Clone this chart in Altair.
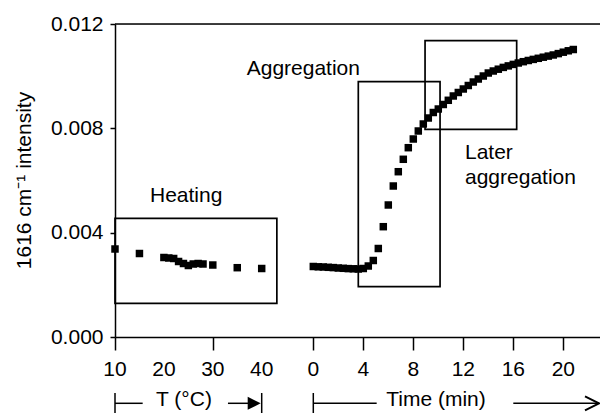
import altair as alt
import pandas as pd

# ---------------- data ----------------
# Heating phase: temperature (°C) -> 1616 cm-1 intensity
heat_T = [10, 15, 20, 21, 22, 23, 24, 25, 26, 27, 28, 30, 35, 40]
heat_I = [0.003374, 0.003201, 0.003048, 0.003029, 0.003010, 0.002895, 0.002818,
          0.002741, 0.002799, 0.002818, 0.002799, 0.002760, 0.002657, 0.002626]

# Isothermal phase: time (min) -> intensity
time_min = [0.0, 0.4, 0.8, 1.2, 1.6, 2.0, 2.4, 2.8, 3.2, 3.6, 4.0, 4.4, 4.8, 5.2,
            5.6, 6.0, 6.4, 6.8, 7.2, 7.6, 8.0, 8.4, 8.8, 9.2, 9.6, 10.0, 10.4,
            10.8, 11.2, 11.6, 12.0, 12.4, 12.8, 13.2, 13.6, 14.0, 14.4, 14.8,
            15.2, 15.6, 16.0, 16.4, 16.8, 17.2, 17.6, 18.0, 18.4, 18.8, 19.2,
            19.6, 20.0, 20.4, 20.8]
time_I = [0.002703, 0.002691, 0.002684, 0.002672, 0.002661, 0.002645, 0.002634,
          0.002622, 0.002615, 0.002607, 0.002626, 0.002722, 0.002933, 0.003393,
          0.004229, 0.005061, 0.005789, 0.006337, 0.006813, 0.007258, 0.007591,
          0.007898, 0.008166, 0.008396, 0.008607, 0.008741, 0.008914, 0.009075,
          0.009240, 0.009374, 0.009508, 0.009642, 0.009776, 0.009891, 0.010006,
          0.010121, 0.010198, 0.010267, 0.010336, 0.010394, 0.010451, 0.010505,
          0.010555, 0.010601, 0.010643, 0.010685, 0.010727, 0.010769, 0.010812,
          0.010865, 0.010919, 0.010973, 0.011022]

# Boxes: (section, x from, x to, intensity low, intensity high)
box_section = ["T", "t", "t"]
box_x0 = [10, 3.6, 8.94]
box_x1 = [43.1, 10.14, 16.27]
box_lo = [0.00129, 0.00193, 0.00796]
box_hi = [0.00455, 0.00979, 0.01136]

T_TICKS = [10, 20, 30, 40]
TIME_TICKS = [0, 2, 4, 6, 8, 10, 12, 14, 16, 18, 20, 22]
TIME_LABELLED = [0, 4, 8, 12, 16, 20]
Y_TICKS = [0.000, 0.004, 0.008, 0.012]

# ---------------- broken x axis: shared position scale ----------------
PX_PER_DEG = 4.89
TIME_ORIGIN = 198.3
PX_PER_MIN = 12.5
X_MAX = 485
W, H = 485, 313


def pos_T(T):
    return (T - 10) * PX_PER_DEG


def pos_t(t):
    return TIME_ORIGIN + t * PX_PER_MIN


def pos(section, v):
    return pos_T(v) if section == "T" else pos_t(v)


pts = pd.DataFrame({
    "u": [pos_T(v) for v in heat_T] + [pos_t(v) for v in time_min],
    "I": heat_I + time_I,
})

boxes = pd.DataFrame({
    "u": [pos(s, v) for s, v in zip(box_section, box_x0)],
    "u1": [pos(s, v) for s, v in zip(box_section, box_x1)],
    "I": box_lo,
    "I1": box_hi,
})

tick_pos = [round(pos_T(v), 3) for v in T_TICKS] + [round(pos_t(v), 3) for v in TIME_TICKS]
tick_labels = pd.DataFrame({
    "u": [pos_T(v) for v in T_TICKS] + [pos_t(v) for v in TIME_LABELLED],
    "text": [str(v) for v in T_TICKS] + [str(v) for v in TIME_LABELLED],
})

FONT = "Liberation Sans"
FS = 21

x_axis = alt.Axis(values=tick_pos, labels=False, title=None, grid=False,
                  tickSize=13, tickWidth=1.5, tickColor="black",
                  domainWidth=1.5, domainColor="black")
y_axis = alt.Axis(values=Y_TICKS, format=".3f", grid=False,
                  title="1616 cm\u207b\u00b9 intensity",
                  titleX=-91, titleY=156, titleAngle=270,
                  titleAlign="center", titleBaseline="middle",
                  titleFontSize=FS, titleFontWeight="normal", titleFont=FONT,
                  titleColor="black",
                  tickSize=5, tickWidth=1.5, tickColor="black",
                  domainWidth=1.5, domainColor="black",
                  labelColor="black", labelFontSize=FS, labelFont=FONT,
                  labelPadding=7, labelOverlap=False)

x_scale = alt.Scale(domain=[0, X_MAX], nice=False, zero=False)
y_scale = alt.Scale(domain=[0, 0.012], nice=False, zero=False)

points = alt.Chart(pts).mark_square(size=56, color="black", opacity=1).encode(
    x=alt.X("u:Q", scale=x_scale, axis=x_axis),
    y=alt.Y("I:Q", scale=y_scale, axis=y_axis))

rects = alt.Chart(boxes).mark_rect(filled=False, stroke="black", strokeWidth=1.7).encode(
    x="u:Q", x2="u1:Q", y="I:Q", y2="I1:Q")

top_line = alt.Chart(pd.DataFrame({"a": [0]})).mark_rule(color="black", strokeWidth=1.5).encode(
    x=alt.datum(0), x2=alt.datum(X_MAX), y=alt.datum(0.012))

ann = pd.DataFrame({
    "text": ["Heating", "Aggregation", "Later", "aggregation"],
    "u": [35, 131.7, 350, 350],
    "I": [0.005187, 0.010045, 0.006813, 0.005847],
})
labels = alt.Chart(ann).mark_text(align="left", baseline="alphabetic", fontSize=FS,
                                  font=FONT, color="black").encode(
    x="u:Q", y="I:Q", text="text:N")

# x tick labels (broken axis: °C section and minutes section)
xlabels = alt.Chart(tick_labels).mark_text(align="center", baseline="alphabetic", fontSize=FS,
                                           font=FONT, color="black").encode(
    x="u:Q", y=alt.value(351.5), text="text:N")

# ---- axis captions below the plot ----
bars = alt.Chart(pd.DataFrame({"u": [pos_T(10), pos_T(40), pos_t(0)]})).mark_rule(
    color="black", strokeWidth=1.5).encode(x="u:Q", y=alt.value(369), y2=alt.value(389))

seg = pd.DataFrame({
    "u": [pos_T(10), pos_T(33.1), pos_t(0), pos_t(16.0)],
    "u1": [pos_T(15.66), pos_T(38.5), pos_t(5.07), X_MAX - 1],
})
hlines = alt.Chart(seg).mark_rule(color="black", strokeWidth=1.5).encode(
    x="u:Q", x2="u1:Q", y=alt.value(379.3))

cap = pd.DataFrame({"text": ["T (\u00b0C)", "Time (min)"], "u": [69, 321]})
captions = alt.Chart(cap).mark_text(align="center", baseline="alphabetic", fontSize=FS,
                                    font=FONT, color="black").encode(
    x="u:Q", y=alt.value(382), text="text:N")

head_T = alt.Chart(pd.DataFrame({"u": [pos_T(40) - 7.5]})).mark_point(
    shape="M -1 -1 L 1 0 L -1 1 Z", filled=True, size=169, color="black", opacity=1).encode(
    x="u:Q", y=alt.value(379.3))

head_t = alt.Chart(pd.DataFrame({"u": [X_MAX - 8]})).mark_point(
    shape="M -1 -1 L 1 0 L -1 1", filled=False, size=196, color="black", strokeWidth=2,
    opacity=1).encode(x="u:Q", y=alt.value(379.3))

chart = alt.layer(points, rects, top_line, labels, xlabels, bars, hlines, captions,
                  head_T, head_t).properties(
    width=W, height=H,
    autosize=alt.AutoSizeParams(type="none"),
    padding={"left": 115, "top": 24, "right": 0, "bottom": 78},
    background="white",
).configure_view(stroke=None).configure(font=FONT)

chart.save("out.html", embed_options={"renderer": "svg", "actions": False})
